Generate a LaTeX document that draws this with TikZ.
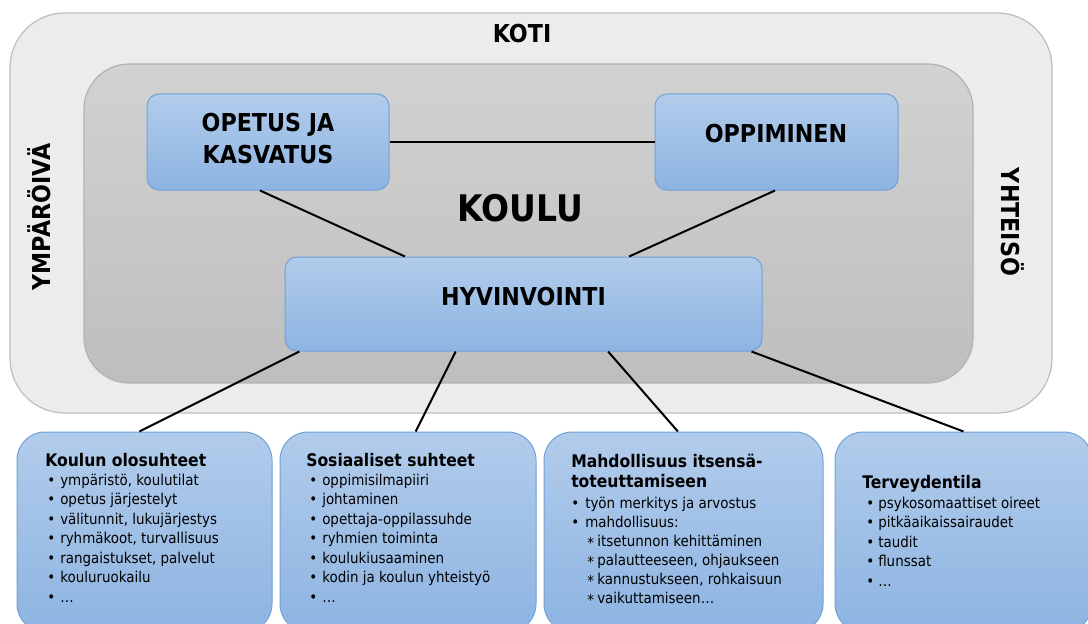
\documentclass[tikz,border=0pt]{standalone}
\usepackage{fontspec}
\setmainfont{DejaVu Sans}[FakeStretch=0.9]
\usetikzlibrary{calc}
\definecolor{outerfill}{RGB}{236,236,236}
\definecolor{outerdraw}{RGB}{190,190,190}
\definecolor{innertop}{RGB}{210,210,210}
\definecolor{innerbot}{RGB}{190,190,190}
\definecolor{innerdraw}{RGB}{178,178,178}
\definecolor{bluetop}{RGB}{178,204,235}
\definecolor{bluebot}{RGB}{141,180,226}
\definecolor{bluedraw}{RGB}{112,162,216}
\newcommand\bul[1][9.75pt]{\makebox[#1][l]{•}}
\newcommand\subst{\makebox[7.5pt][l]{\raisebox{-2pt}{*}}}
\begin{document}
\begin{tikzpicture}[x=0.75pt,y=-0.75pt,
  outerbox/.style={draw=outerdraw, fill=outerfill, line width=0.9pt, rounded corners=41pt, inner sep=0pt},
  innerbox/.style={draw=innerdraw, top color=innertop, bottom color=innerbot, line width=0.9pt, rounded corners=34pt, inner sep=0pt},
  bluebox/.style={draw=bluedraw, top color=bluetop, bottom color=bluebot, line width=0.75pt, rounded corners=9pt, inner sep=0pt},
  listbox/.style={bluebox, rounded corners=21pt, minimum height=150pt},
  biglabel/.style={font=\fontsize{18.5}{24}\selectfont\bfseries, align=center, inner sep=0pt},
  boxtitle/.style={font=\fontsize{13}{15}\selectfont\bfseries, anchor=base west, inner sep=0pt},
  item/.style={font=\fontsize{11.2}{14}\selectfont, anchor=base west, inner sep=0pt},
  conn/.style={line width=1.5pt, black}]
\useasboundingbox (0,0) rectangle (1088,624);
\clip (0,0) rectangle (1088,624);
\fill[white] (0,0) rectangle (1088,624);

% home and school frames
\node[outerbox, minimum width=781.5pt, minimum height=300pt] (koti) at (531,213) {};
\node[innerbox, minimum width=666.75pt, minimum height=239.25pt] (koulu) at (528.5,223.5) {};
\node[biglabel] (kotit) at (522,34) {KOTI};
\node[biglabel, rotate=90] (ymp) at (39,217) {YMPÄRÖIVÄ};
\node[biglabel, rotate=-90] (yht) at (1013,222) {YHTEISÖ};
\node[font=\fontsize{27.5}{30}\selectfont\bfseries, inner sep=0pt] (koulutext) at (520,208) {KOULU};

% blue boxes in school
\node[bluebox, minimum width=181.5pt, minimum height=72pt] (opetus) at (268,142) {};
\node[bluebox, minimum width=182.25pt, minimum height=72pt] (opp) at (776.5,142) {};
\node[bluebox, minimum width=357.75pt, minimum height=70.5pt] (hyv) at (523.5,304) {};
\node[biglabel] (opetust) at (268,139) {OPETUS JA\\KASVATUS};
\node[biglabel] (oppt) at (776,134) {OPPIMINEN};
\node[biglabel] (hyvt) at (523.5,297) {HYVINVOINTI};

% bottom boxes
\node[listbox, minimum width=191.25pt] (b1) at (144.5,532) {};
\node[listbox, minimum width=192pt] (b2) at (408,532) {};
\node[listbox, minimum width=209.25pt] (b3) at (683.5,532) {};
\node[listbox, minimum width=192.75pt] (b4) at (963.5,532) {};

% connectors
\draw[conn] (opetus.east) -- (opp.west);
\draw[conn] ($(opetus.south west)!0.467!(opetus.south east)$) -- ($(hyv.north west)!0.252!(hyv.north east)$);
\draw[conn] ($(opp.south west)!0.494!(opp.south east)$) -- ($(hyv.north west)!0.721!(hyv.north east)$);
\draw[conn] ($(hyv.south west)!0.031!(hyv.south east)$) -- ($(b1.north west)!0.48!(b1.north east)$);
\draw[conn] ($(hyv.south west)!0.358!(hyv.south east)$) -- ($(b2.north west)!0.53!(b2.north east)$);
\draw[conn] ($(hyv.south west)!0.677!(hyv.south east)$) -- ($(b3.north west)!0.48!(b3.north east)$);
\draw[conn] ($(hyv.south west)!0.977!(hyv.south east)$) -- ($(b4.north west)!0.5!(b4.north east)$);

% box 1
\node[boxtitle] (b1t) at (45,466) {Koulun olosuhteet};
\foreach \t [count=\i from 0] in {{ympäristö, koulutilat},{opetus järjestelyt},{välitunnit, lukujärjestys},{ryhmäkoot, turvallisuus},{rangaistukset, palvelut},{kouluruokailu},{…}}
  \node[item] (b1i\i) at (47,{485+19.5*\i}) {\bul\t};

% box 2
\node[boxtitle] (b2t) at (306,466) {Sosiaaliset suhteet};
\foreach \t [count=\i from 0] in {{oppimisilmapiiri},{johtaminen},{opettaja-oppilassuhde},{ryhmien toiminta},{koulukiusaaminen},{kodin ja koulun yhteistyö},{…}}
  \node[item] (b2i\i) at (309,{485+19.5*\i}) {\bul\t};

% box 3
\node[boxtitle] (b3t) at (571,467) {Mahdollisuus itsensä-};
\node[boxtitle] (b3u) at (571,487) {toteuttamiseen};
\node[item] (b3i0) at (571,508) {\bul[10.5pt]työn merkitys ja arvostus};
\node[item] (b3i1) at (571,527) {\bul[10.5pt]mahdollisuus:};
\foreach \t [count=\i from 0] in {{itsetunnon kehittäminen},{palautteeseen, ohjaukseen},{kannustukseen, rohkaisuun},{vaikuttamiseen…}}
  \node[item] (b3s\i) at (587,{546+19*\i}) {\subst\t};

% box 4
\node[boxtitle] (b4t) at (862,488) {Terveydentila};
\foreach \t [count=\i from 0] in {{psykosomaattiset oireet},{pitkäaikaissairaudet},{taudit},{flunssat},{…}}
  \node[item] (b4i\i) at (866,{508+19.5*\i}) {\bul[9pt]\t};
\end{tikzpicture}
\end{document}
